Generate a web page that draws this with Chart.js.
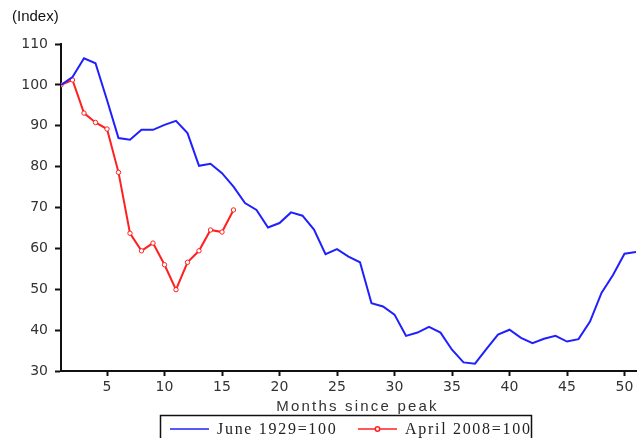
<!DOCTYPE html>
<html>
<head>
<meta charset="utf-8">
<script src="https://cdn.jsdelivr.net/npm/chart.js@4"></script>
<style>
    html, body { margin: 0; padding: 0; background: #fff; }
    #wrap { width: 644px; height: 438px; position: relative; }
</style>
</head>
<body>
<div id="wrap"><canvas id="chart" width="644" height="438"></canvas></div>
<script>
// Data (index, peak month = 100)
const months1929 = [1,2,3,4,5,6,7,8,9,10,11,12,13,14,15,16,17,18,19,20,21,22,23,24,25,26,27,28,29,30,31,32,33,34,35,36,37,38,39,40,41,42,43,44,45,46,47,48,49,50,51];
const june1929 = [100,101.9,106.5,105.3,96.3,87.0,86.6,89.0,89.0,90.2,91.2,88.2,80.2,80.7,78.4,75.1,71.1,69.4,65.1,66.2,68.8,68.0,64.6,58.6,59.8,58.0,56.6,46.6,45.8,43.8,38.6,39.4,40.8,39.4,35.2,32.1,31.8,35.4,38.9,40.1,38.1,36.8,37.9,38.6,37.2,37.8,42.1,49.1,53.5,58.7,59.1];
const months2008 = [1,2,3,4,5,6,7,8,9,10,11,12,13,14,15,16];
const april2008 = [100,101.2,93.1,90.8,89.2,78.6,63.7,59.4,61.3,56.0,49.9,56.6,59.4,64.5,64.0,69.4];
const xTicks = [5,10,15,20,25,30,35,40,45,50];
const yTicks = [30,40,50,60,70,80,90,100,110];
const seriesNames = ['June 1929=100', 'April 2008=100'];

const toPoints = (xs, ys) => xs.map((x, i) => ({ x: x, y: ys[i] }));

// Extra text: "(Index)", axis title and the boxed legend
const decorations = {
    id: 'decorations',
    afterDraw(chart) {
        const ctx = chart.ctx;
        const area = chart.chartArea;
        ctx.save();
        ctx.fillStyle = '#111';
        ctx.font = '15px "Liberation Sans", Arial, sans-serif';
        ctx.textBaseline = 'middle';
        ctx.textAlign = 'left';
        ctx.fillText('(Index)', 12, 17);

        ctx.font = '15px "Liberation Sans", Arial, sans-serif';
        ctx.letterSpacing = '2.2px';
        ctx.fillStyle = '#333';
        ctx.textAlign = 'center';
        ctx.fillText('Months since peak', (area.left + area.right) / 2 + 9, 407);
        ctx.letterSpacing = '0px';

        // legend box
        ctx.strokeStyle = '#111';
        ctx.lineWidth = 1.5;
        ctx.strokeRect(160.5, 415.5, 371, 40);

        const items = chart.data.datasets;
        const xs = [170, 358];
        ctx.font = '16px "Liberation Serif", "Times New Roman", serif';
        ctx.letterSpacing = '1.7px';
        ctx.textAlign = 'left';
        ctx.fillStyle = '#222';
        items.forEach((ds, i) => {
            const x0 = xs[i];
            const y = 429;
            ctx.strokeStyle = ds.borderColor;
            ctx.lineWidth = 1.5;
            ctx.beginPath();
            ctx.moveTo(x0, y);
            ctx.lineTo(x0 + 39, y);
            ctx.stroke();
            if (ds.pointRadius > 0) {
                ctx.fillStyle = '#fff';
                ctx.beginPath();
                ctx.arc(x0 + 19.5, y, 2.2, 0, Math.PI * 2);
                ctx.fill();
                ctx.stroke();
            }
            ctx.fillStyle = '#222';
            ctx.fillText(ds.label, x0 + 47, y + 1);
        });
        ctx.letterSpacing = '0px';
        ctx.restore();
    }
};

const ctx = document.getElementById('chart');
new Chart(ctx, {
    type: 'line',
    data: {
        datasets: [{
            label: seriesNames[0],
            data: toPoints(months1929, june1929),
            borderColor: '#2020ff',
            borderWidth: 2,
            pointRadius: 0,
            tension: 0
        }, {
            label: seriesNames[1],
            data: toPoints(months2008, april2008),
            borderColor: '#ff2020',
            backgroundColor: '#ffffff',
            borderWidth: 2,
            pointRadius: 2.2,
            pointBorderWidth: 1,
            pointStyle: 'circle',
            tension: 0
        }]
    },
    options: {
        responsive: false,
        animation: false,
        layout: { padding: { left: 0, right: 8, top: 44, bottom: 23 } },
        plugins: {
            legend: { display: false },
            tooltip: { enabled: false }
        },
        scales: {
            x: {
                type: 'linear',
                min: 1,
                max: 51,
                afterBuildTicks: (axis) => { axis.ticks = xTicks.map(v => ({ value: v })); },
                afterFit: (axis) => { axis.height = 44; },
                grid: {
                    drawOnChartArea: false,
                    drawTicks: true,
                    tickLength: 5,
                    tickWidth: 2,
                    tickColor: '#111'
                },
                border: { display: true, color: '#111', width: 2 },
                ticks: {
                    color: '#333',
                    padding: 3,
                    maxRotation: 0,
                    font: { family: '"DejaVu Sans", Verdana, sans-serif', size: 14 }
                }
            },
            y: {
                min: 30,
                max: 110,
                afterBuildTicks: (axis) => { axis.ticks = yTicks.map(v => ({ value: v })); },
                afterFit: (axis) => { axis.width = 61; },
                grid: {
                    drawOnChartArea: false,
                    drawTicks: true,
                    tickLength: 6,
                    tickWidth: 2,
                    tickColor: '#111'
                },
                border: { display: true, color: '#111', width: 2 },
                ticks: {
                    color: '#333',
                    padding: 7,
                    font: { family: '"DejaVu Sans", Verdana, sans-serif', size: 14 }
                }
            }
        }
    },
    plugins: [decorations]
});
</script>
</body>
</html>
